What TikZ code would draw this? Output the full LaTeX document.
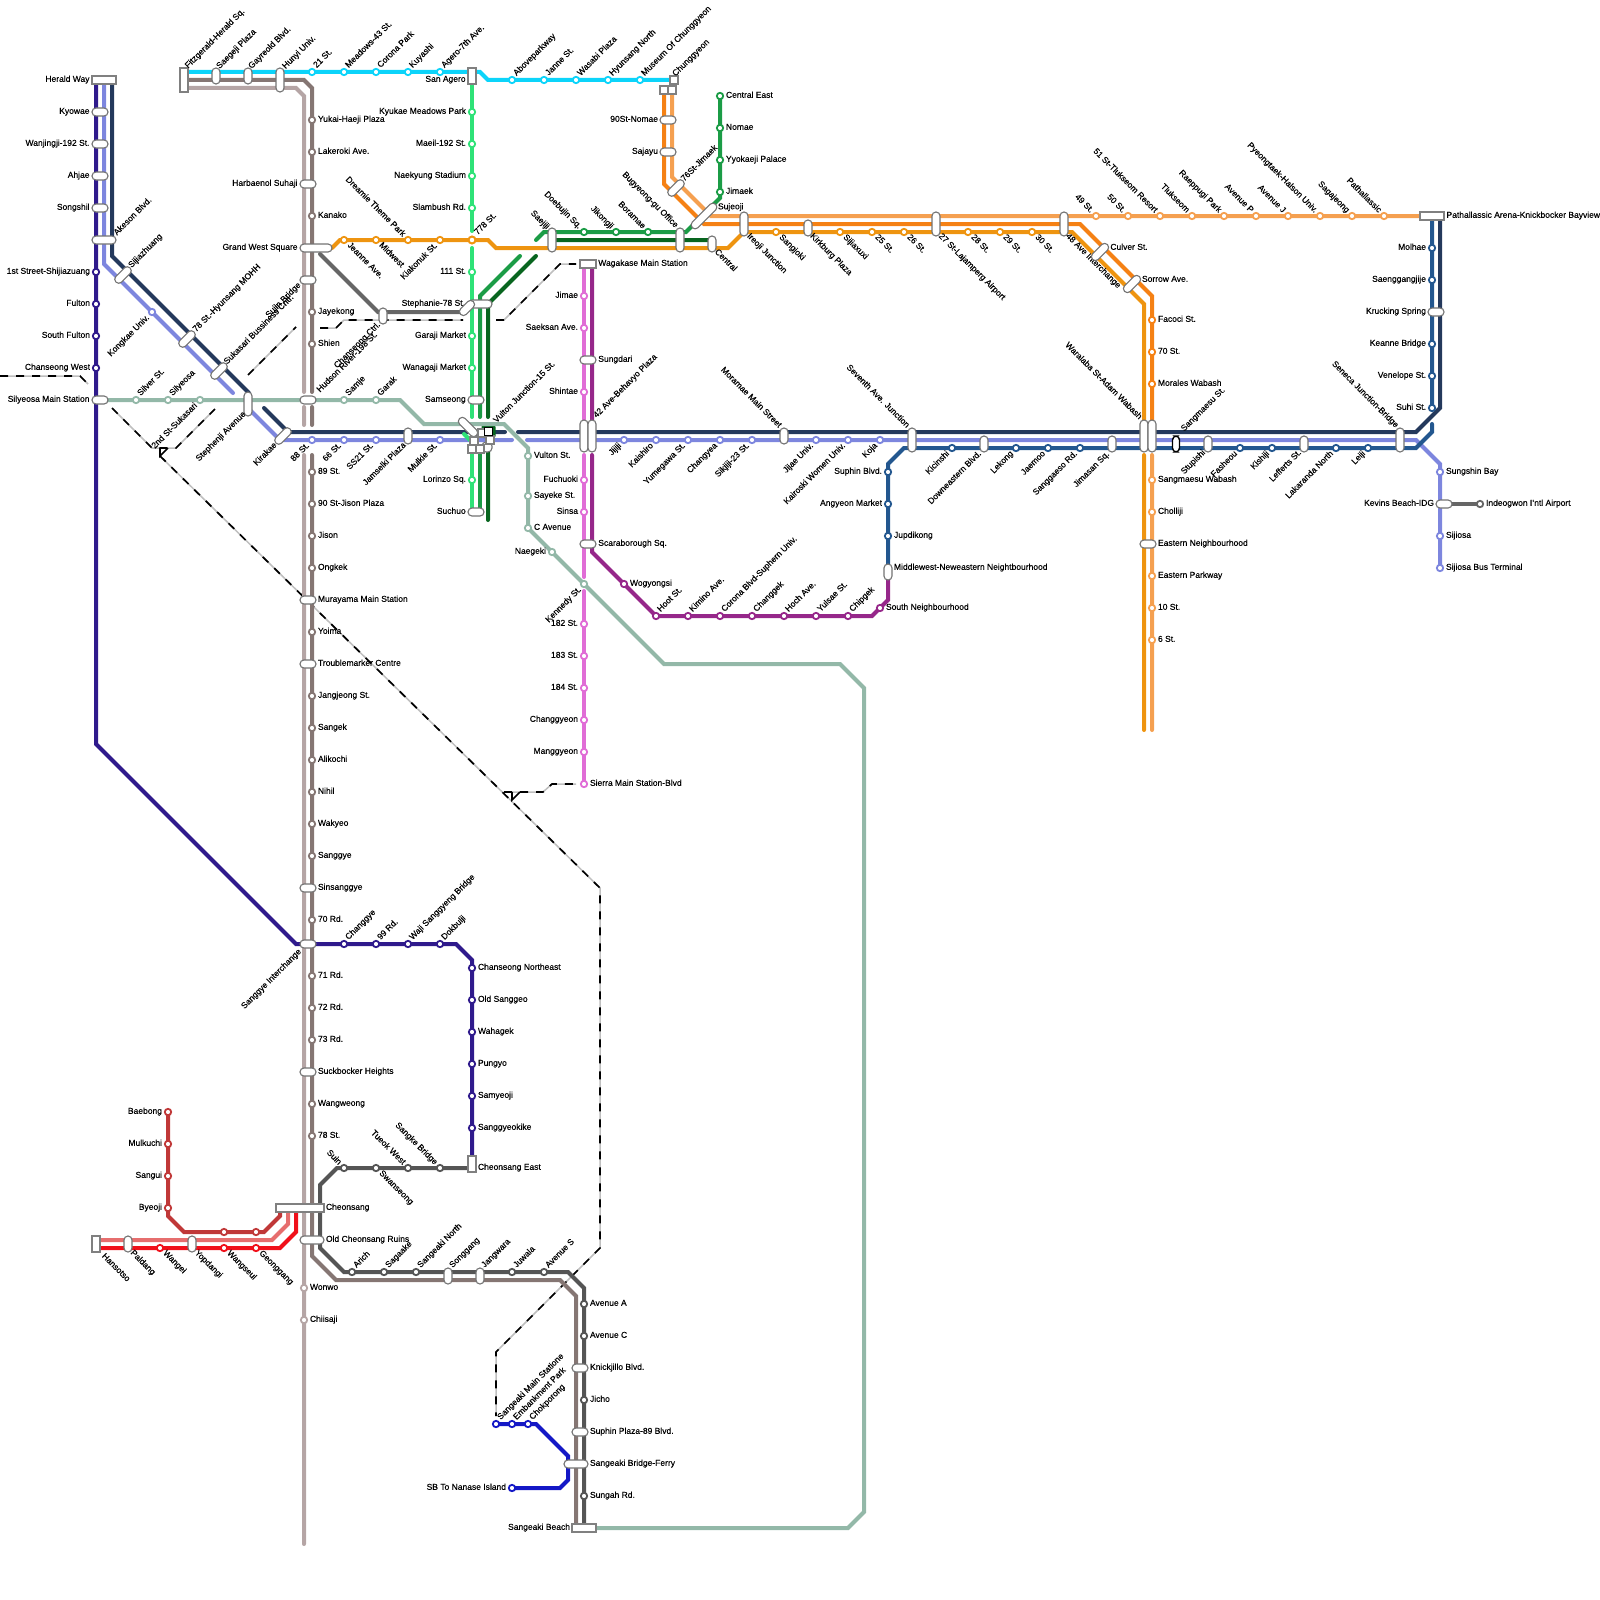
\documentclass[tikz,border=0pt]{standalone}
\usepackage{fontspec}
\setmainfont{Liberation Sans}[FakeBold=0.3]
\definecolor{ind}{HTML}{2F1A8C}
\definecolor{peri}{HTML}{7D86DE}
\definecolor{navy}{HTML}{24395C}
\definecolor{lgreen}{HTML}{2EE277}
\definecolor{mgreen}{HTML}{1B9C46}
\definecolor{dgreen}{HTML}{08651F}
\definecolor{cyanl}{HTML}{0CD4FA}
\definecolor{brownl}{HTML}{857673}
\definecolor{lbrown}{HTML}{B5A5A5}
\definecolor{dgrey}{HTML}{555555}
\definecolor{mgrey}{HTML}{666666}
\definecolor{amber}{HTML}{EE9410}
\definecolor{orangel}{HTML}{F58114}
\definecolor{lorange}{HTML}{F5A050}
\definecolor{pinkl}{HTML}{E06DD6}
\definecolor{purplel}{HTML}{96278A}
\definecolor{bluel}{HTML}{23578F}
\definecolor{sage}{HTML}{93B8A8}
\definecolor{redd}{HTML}{C03838}
\definecolor{redp}{HTML}{E66E6E}
\definecolor{redb}{HTML}{F0101A}
\definecolor{bluev}{HTML}{1418C6}
\pgfdeclarelayer{lines}
\pgfsetlayers{lines,main}
\tikzset{
  stn/.style={circle,fill=white,line width=1.8pt,minimum size=6.4pt,inner sep=0pt,outer sep=0pt},
  lb/.style={font=\fontsize{8.5}{10}\selectfont,inner sep=0pt,outer sep=0pt,text height=6.2pt,text depth=1.6pt,text=black},
  pillbox/.style={rectangle,fill=white,draw=black!55,line width=1.1pt,rounded corners=3.9pt,inner sep=0pt,outer sep=0pt},
  sqbox/.style={rectangle,fill=white,draw=black!50,line width=1.2pt,inner sep=0pt,outer sep=0pt},
  ln/.style={line width=4pt,line join=miter,line cap=round},
  rail/.style={line width=1.5pt,black!25},
  railtop/.style={line width=1.7pt,black,dash pattern=on 8pt off 8pt},
}
\newcommand\labE[4]{\node[lb,anchor=west] (#1) at ({#2+6},{#3-0.5}) {#4};}
\newcommand\labW[4]{\node[lb,anchor=east] (#1) at ({#2-6},{#3-0.5}) {#4};}
\newcommand\labNE[4]{\node[lb,anchor=west,rotate=45] (#1) at ({#2+3},{#3-5.5}) {#4};}
\newcommand\labSW[4]{\node[lb,anchor=east,rotate=45] (#1) at ({#2-4},{#3+4.5}) {#4};}
\newcommand\labSE[4]{\node[lb,anchor=west,rotate=-45] (#1) at ({#2+4.5},{#3+4}) {#4};}
\newcommand\labNW[4]{\node[lb,anchor=east,rotate=-45] (#1) at ({#2-4},{#3-4.5}) {#4};}
\newcommand\st[6]{\node[stn,draw=#4] (#1) at (#2,#3) {};\csname lab#5\endcsname{#1t}{#2}{#3}{#6}}
\newcommand\pl[6]{\node[pillbox,minimum width=#4pt,minimum height=#5pt,rotate=#6] (#1) at (#2,#3) {};}
\newcommand\bx[5]{\node[sqbox,minimum width=#4pt,minimum height=#5pt] (#1) at (#2,#3) {};}
\begin{document}
\begin{tikzpicture}[x=1pt,y=-1pt]
\useasboundingbox (0,0) rectangle (1600,1600);
% ---------- indigo
\bx{herald}{104}{80}{24}{8}\labW{heraldt}{95.5}{80}{Herald Way}
\pl{kyowae}{100}{112}{16}{8}{0}\labW{kyowaet}{95.5}{112}{Kyowae}
\pl{wanj}{100}{144}{16}{8}{0}\labW{wanjt}{95.5}{144}{Wanjingji-192 St.}
\pl{ahjae}{100}{176}{16}{8}{0}\labW{ahjaet}{95.5}{176}{Ahjae}
\pl{songshil}{100}{208}{16}{8}{0}\labW{songshilt}{95.5}{208}{Songshil}
\pl{akeson}{104}{240}{24}{8}{0}\labNE{akesont}{112.4}{239.5}{Akeson Blvd.}
\st{i1}{96}{272}{ind}{W}{1st Street-Shijiazuang}
\st{i2}{96}{304}{ind}{W}{Fulton}
\st{i3}{96}{336}{ind}{W}{South Fulton}
\st{i4}{96}{368}{ind}{W}{Chanseong West}
\pl{silyeosa}{100}{400}{16}{8}{0}\labW{silyeosat}{95.5}{400}{Silyeosa Main Station}
\pl{interch}{308}{944}{16}{8}{0}\labSW{interchant}{304}{946}{Sanggye Interchange}
\st{i5}{344}{944}{ind}{NE}{Changgye}
\st{i6}{376}{944}{ind}{NE}{99 Rd.}
\st{i7}{408}{944}{ind}{NE}{Waji Sanggyeng Bridge}
\st{i8}{440}{944}{ind}{NE}{Dokbulji}
\st{i9}{472}{968}{ind}{E}{Chanseong Northeast}
\st{i10}{472}{1000}{ind}{E}{Old Sanggeo}
\st{i11}{472}{1032}{ind}{E}{Wahagek}
\st{i12}{472}{1064}{ind}{E}{Pungyo}
\st{i13}{472}{1096}{ind}{E}{Samyeoji}
\st{i14}{472}{1128}{ind}{E}{Sanggyeokike}
\bx{cheoneast}{472}{1164}{8}{16}\labE{cheoneastt}{472}{1168}{Cheonsang East}
% ---------- periwinkle diag
\pl{sijia}{123}{275}{20}{8}{45}\labNE{sijiat}{127}{272}{Sijiazhuang}
\st{p1}{152}{312}{peri}{SW}{Kongkae Univ.}
\pl{p78}{187}{339}{20}{8}{45}\labNE{p78t}{191.5}{336}{78 St.-Hyunsang MOHH}
\pl{sukas}{219}{371}{20}{8}{45}\labNE{sukast}{222.5}{368.5}{Sukasari Bussiness Cntr.}
\pl{stephenji}{248}{404}{8}{24}{0}\labSW{stephenjit}{248.5}{408.5}{Stephenji Avenue}
\pl{kirakae}{283}{436}{20}{8}{45}\labSW{kirakaet}{279.5}{439.5}{Kirakae}
\st{p2}{312}{440}{peri}{SW}{88 St.}
\st{p3}{344}{440}{peri}{SW}{66 St.}
\st{p4}{376}{440}{peri}{SW}{SS21 St.}
\pl{jamsel}{408}{436}{8}{16}{0}\labSW{jamselt}{408.6}{439.5}{Jamselki Plaza}
\st{p5}{440}{440}{peri}{SW}{Mulkie St.}
\pl{ave42a}{584}{436}{8}{32}{0}
\pl{ave42b}{592}{436}{8}{32}{0}\labNE{ave42t}{592}{422}{42 Ave-Behavyo Plaza}
\st{p6}{624}{440}{peri}{SW}{Jijiji}
\st{p7}{656}{440}{peri}{SW}{Kaishiro}
\st{p8}{688}{440}{peri}{SW}{Yumegawa St.}
\st{p9}{720}{440}{peri}{SW}{Changyea}
\st{p10}{752}{440}{peri}{SW}{Sikjiji-23 St.}
\pl{moramae}{784}{436}{8}{16}{0}\labNW{moramaet}{784}{431}{Moramae Main Street}
\st{p11}{816}{440}{peri}{SW}{Jijae Univ.}
\st{p12}{848}{440}{peri}{SW}{Kairoski Women Univ.}
\st{p13}{880}{440}{peri}{SW}{Koja}
\pl{seventh}{912}{440}{8}{24}{0}\labNW{seventht}{912}{431}{Seventh Ave. Junction}
\st{p14}{1440}{472}{peri}{E}{Sungshin Bay}
\pl{kevins}{1444}{504}{16}{8}{0}\labW{kevinst}{1440}{504}{Kevins Beach-IDG}
\st{p15}{1440}{536}{peri}{E}{Sijiosa}
\st{p16}{1440}{568}{peri}{E}{Sijiosa Bus Terminal}
\st{air}{1480}{504}{mgrey}{E}{Indeogwon I'ntl Airport}
% ---------- blue
\st{b1}{888}{472}{bluel}{W}{Suphin Blvd.}
\st{b2}{888}{504}{bluel}{W}{Angyeon Market}
\st{b3}{888}{536}{bluel}{E}{Jupdikong}
\pl{middle}{888}{572}{8}{16}{0}\labE{middlet}{888}{568}{Middlewest-Neweastern Neightbourhood}
\st{b4}{952}{448}{bluel}{SW}{Kicinshi}
\pl{downe}{984}{444}{8}{16}{0}\labSW{downet}{984}{448}{Downeastern Blvd.}
\st{b5}{1016}{448}{bluel}{SW}{Lekong}
\st{b6}{1048}{448}{bluel}{SW}{Jaemoo}
\st{b7}{1080}{448}{bluel}{SW}{Sanggaeso Rd.}
\pl{jimasan}{1112}{444}{8}{16}{0}\labSW{jimasant}{1112}{448.5}{Jimasan Sq.}
\pl{wara1}{1144}{436}{8}{32}{0}\labNW{warat}{1144.5}{422.5}{Waralaba St-Adam Wabash}
\pl{wara2}{1152}{436}{8}{32}{0}
\node[pillbox,draw=black,line width=1.4pt,minimum width=7pt,minimum height=16pt] (sangm) at (1176,444) {};\labNE{sangmt}{1179.6}{435.5}{Sangmaesu St.}
\pl{stup}{1208}{444}{8}{16}{0}\labSW{stupt}{1208}{447}{Stupishi}
\st{b8}{1240}{448}{bluel}{SW}{Fasheou}
\st{b9}{1272}{448}{bluel}{SW}{Kishiji}
\pl{leff}{1304}{444}{8}{16}{0}\labSW{lefft}{1304}{447}{Lefferts St.}
\st{b10}{1336}{448}{bluel}{SW}{Lakaranda North}
\st{b11}{1368}{448}{bluel}{SW}{Leiji}
\pl{seneca}{1400}{440}{8}{24}{0}\labNW{senecat}{1401}{431}{Seneca Junction-Bridge}
\bx{patha}{1432}{216}{24}{8}\labE{pathat}{1440.5}{216}{Pathallassic Arena-Knickbocker Bayview}
\st{b12}{1432}{248}{bluel}{W}{Molhae}
\st{b13}{1432}{280}{bluel}{W}{Saenggangjije}
\pl{kruck}{1436}{312}{16}{8}{0}\labW{kruckt}{1432}{312}{Krucking Spring}
\st{b14}{1432}{344}{bluel}{W}{Keanne Bridge}
\st{b15}{1432}{376}{bluel}{W}{Venelope St.}
\st{b16}{1432}{408}{bluel}{W}{Suhi St.}
% ---------- purple / pink
\bx{waga}{588}{264}{16}{8}\labE{wagat}{592.3}{264}{Wagakase Main Station}
\st{k1}{584}{296}{pinkl}{W}{Jimae}
\st{k2}{584}{328}{pinkl}{W}{Saeksan Ave.}
\pl{sungd}{588}{360}{16}{8}{0}\labE{sungdt}{592.3}{360}{Sungdari}
\st{k3}{584}{392}{pinkl}{W}{Shintae}
\st{k4}{584}{480}{pinkl}{W}{Fuchuoki}
\st{k5}{584}{512}{pinkl}{W}{Sinsa}
\pl{scara}{588}{544}{16}{8}{0}\labE{scarat}{592.3}{544}{Scaraborough Sq.}
\st{k6}{584}{624}{pinkl}{W}{182 St.}
\st{k7}{584}{656}{pinkl}{W}{183 St.}
\st{k8}{584}{688}{pinkl}{W}{184 St.}
\st{k9}{584}{720}{pinkl}{W}{Changgyeon}
\st{k10}{584}{752}{pinkl}{W}{Manggyeon}
\st{k11}{584}{784}{pinkl}{E}{Sierra Main Station-Blvd}
\st{u1}{624}{584}{purplel}{E}{Wogyongsi}
\st{u2}{656}{616}{purplel}{NE}{Hoot St.}
\st{u3}{688}{616}{purplel}{NE}{Kimino Ave.}
\st{u4}{720}{616}{purplel}{NE}{Corona Blvd-Suphern Univ.}
\st{u5}{752}{616}{purplel}{NE}{Changgek}
\st{u6}{784}{616}{purplel}{NE}{Hoch Ave.}
\st{u7}{816}{616}{purplel}{NE}{Yulsae St.}
\st{u8}{848}{616}{purplel}{NE}{Chipgek}
\st{u9}{880}{608}{purplel}{E}{South Neighbourhood}
% ---------- sage
\st{g1}{136}{400}{sage}{NE}{Silver St.}
\st{g2}{168}{400}{sage}{NE}{Silyeosa}
\st{g3}{200}{400}{sage}{SW}{2nd St-Sukasari}
\st{g4}{344}{400}{sage}{NE}{Samje}
\st{g5}{376}{400}{sage}{NE}{Garak}
\st{g6}{528}{456}{sage}{E}{Vulton St.}
\st{g7}{528}{496}{sage}{E}{Sayeke St.}
\st{g8}{528}{528}{sage}{E}{C Avenue}
\st{g9}{552}{552}{sage}{W}{Naegeki}
\st{g10}{584}{584}{sage}{SW}{Kennedy St.}
\bx{beach}{584}{1528}{24}{8}\labW{beacht}{576}{1528}{Sangeaki Beach}
% ---------- brown
\bx{fitz}{184}{80}{8}{24}\labNE{fitzt}{183.6}{72.5}{Fitzgerald-Herald Sq.}
\pl{saeg}{216}{76}{8}{16}{0}\labNE{saegt}{215}{73}{Saegeji Plaza}
\pl{gayr}{248}{76}{8}{16}{0}\labNE{gayrt}{247}{73}{Gayreold Blvd.}
\pl{huny}{280}{80}{8}{24}{0}\labNE{hunyt}{281}{73}{Hunyi Univ.}
\st{r1}{312}{120}{brownl}{E}{Yukai-Haeji Plaza}
\st{r2}{312}{152}{brownl}{E}{Lakeroki Ave.}
\pl{harb}{308}{184}{16}{8}{0}\labW{harbt}{303.5}{184}{Harbaenol Suhaji}
\st{r3}{312}{216}{brownl}{E}{Kanako}
\pl{grand}{316}{248}{32}{8}{0}\labW{grandt}{303.5}{248}{Grand West Square}
\pl{sujin}{308}{280}{16}{8}{0}\labSW{sujint}{303.6}{279.5}{Sujin Bridge}
\st{r4}{312}{312}{brownl}{E}{Jayekong}
\st{r5}{312}{344}{brownl}{E}{Shien}
\pl{hudson}{308}{400}{16}{8}{0}\labNE{hudsont}{315.5}{396.5}{Hudson River-198 St.}
\st{r6}{312}{472}{brownl}{E}{89 St.}
\st{r7}{312}{504}{brownl}{E}{90 St-Jison Plaza}
\st{r8}{312}{536}{brownl}{E}{Jison}
\st{r9}{312}{568}{brownl}{E}{Ongkek}
\pl{muray}{308}{600}{16}{8}{0}\labE{murayt}{312}{600}{Murayama Main Station}
\st{r10}{312}{632}{brownl}{E}{Yoima}
\pl{troub}{308}{664}{16}{8}{0}\labE{troubt}{312}{664}{Troublemarker Centre}
\st{r11}{312}{696}{brownl}{E}{Jangjeong St.}
\st{r12}{312}{728}{brownl}{E}{Sangek}
\st{r13}{312}{760}{brownl}{E}{Alikochi}
\st{r14}{312}{792}{brownl}{E}{Nihil}
\st{r15}{312}{824}{brownl}{E}{Wakyeo}
\st{r16}{312}{856}{brownl}{E}{Sanggye}
\pl{sinsa}{308}{888}{16}{8}{0}\labE{sinsat}{312}{888}{Sinsanggye}
\st{r17}{312}{920}{brownl}{E}{70 Rd.}
\st{r18}{312}{976}{brownl}{E}{71 Rd.}
\st{r19}{312}{1008}{brownl}{E}{72 Rd.}
\st{r20}{312}{1040}{brownl}{E}{73 Rd.}
\pl{suck}{308}{1072}{16}{8}{0}\labE{suckt}{312}{1072}{Suckbocker Heights}
\st{r21}{312}{1104}{brownl}{E}{Wangweong}
\st{r22}{312}{1136}{brownl}{E}{78 St.}
\bx{cheon}{300}{1208}{48}{8}\labE{cheont}{320}{1208}{Cheonsang}
\pl{oldch}{312}{1240}{24}{8}{0}\labE{oldcht}{320}{1240}{Old Cheonsang Ruins}
\st{r23}{304}{1288}{lbrown}{E}{Wonwo}
\st{r24}{304}{1320}{lbrown}{E}{Chiisaji}
% ---------- dark grey
\st{d1}{344}{1168}{dgrey}{NW}{Suin}
\st{d2}{376}{1168}{dgrey}{SE}{Swanseong}
\st{d3}{408}{1168}{dgrey}{NW}{Tueok West}
\st{d4}{440}{1168}{dgrey}{NW}{Sangke Bridge}
\st{d5}{352}{1272}{dgrey}{NE}{Arich}
\st{d6}{384}{1272}{dgrey}{NE}{Sagaake}
\st{d7}{416}{1272}{dgrey}{NE}{Sangeaki North}
\pl{song}{448}{1276}{8}{16}{0}\labNE{songt}{448}{1272}{Songgang}
\pl{jangw}{480}{1276}{8}{16}{0}\labNE{jangwt}{480}{1272}{Jangwara}
\st{d8}{512}{1272}{dgrey}{NE}{Juwala}
\st{d9}{544}{1272}{dgrey}{NE}{Avenue S}
\st{d10}{584}{1304}{dgrey}{E}{Avenue A}
\st{d11}{584}{1336}{dgrey}{E}{Avenue C}
\pl{knick}{580}{1368}{16}{8}{0}\labE{knickt}{584}{1368}{Knickjillo Blvd.}
\st{d12}{584}{1400}{dgrey}{E}{Jicho}
\pl{suph}{580}{1432}{16}{8}{0}\labE{supht}{584}{1432}{Suphin Plaza-89 Blvd.}
\pl{bridge}{576}{1464}{24}{8}{0}\labE{bridget}{584}{1464}{Sangeaki Bridge-Ferry}
\st{d13}{584}{1496}{dgrey}{E}{Sungah Rd.}
% ---------- bright blue
\st{v1}{496}{1424}{bluev}{NE}{Sangeaki Main Statione}
\st{v2}{512}{1424}{bluev}{NE}{Embankment Park}
\st{v3}{528}{1424}{bluev}{NE}{Chokporong}
\st{v4}{512}{1488}{bluev}{W}{SB To Nanase Island}
% ---------- reds
\st{e1}{168}{1112}{redd}{W}{Baebong}
\st{e2}{168}{1144}{redd}{W}{Mulkuchi}
\st{e3}{168}{1176}{redd}{W}{Sangui}
\st{e4}{168}{1208}{redd}{W}{Byeoji}
\node[stn,draw=redd] (e5) at (224,1232) {};
\node[stn,draw=redd] (e6) at (256,1232) {};
\bx{hans}{96}{1244}{8}{16}\labSE{hanst}{98.7}{1251}{Hansotso}
\pl{pald}{128}{1244}{8}{16}{0}\labSE{paldt}{127.3}{1247.7}{Paldang}
\st{e7}{160}{1248}{redb}{SE}{Wangei}
\pl{yopd}{192}{1244}{8}{16}{0}\labSE{yopdt}{191.6}{1247.7}{Yopdangi}
\st{e8}{224}{1248}{redb}{SE}{Wangseul}
\st{e9}{256}{1248}{redb}{SE}{Geonggang}
% ---------- cyan
\st{c1}{312}{72}{cyanl}{NE}{21 St.}
\st{c2}{344}{72}{cyanl}{NE}{Meadows-43 St.}
\st{c3}{376}{72}{cyanl}{NE}{Corona Park}
\st{c4}{408}{72}{cyanl}{NE}{Kuyashi}
\st{c5}{440}{72}{cyanl}{NE}{Agero-7th Ave.}
\bx{sanag}{472}{76}{8}{16}\labW{sanagt}{471.6}{80}{San Agero}
\st{c6}{512}{80}{cyanl}{NE}{Aboveparkway}
\st{c7}{544}{80}{cyanl}{NE}{Janne St.}
\st{c8}{576}{80}{cyanl}{NE}{Wasabi Plaza}
\st{c9}{608}{80}{cyanl}{NE}{Hyunsang North}
\st{c10}{640}{80}{cyanl}{NE}{Museum Of Chunggyeon}
\bx{chungg}{674}{80}{8}{8}\labNE{chunggt}{671}{80.5}{Chunggyeon}
% ---------- light green
\st{l1}{472}{112}{lgreen}{W}{Kyukae Meadows Park}
\st{l2}{472}{144}{lgreen}{W}{Maeil-192 St.}
\st{l3}{472}{176}{lgreen}{W}{Naekyung Stadium}
\st{l4}{472}{208}{lgreen}{W}{Slambush Rd.}
\st{l6}{472}{272}{lgreen}{W}{111 St.}
\pl{stephb}{480}{304}{24}{8}{0}\labW{stepht}{471}{304}{Stephanie-78 St.}
\st{l7}{472}{336}{lgreen}{W}{Garaji Market}
\st{l8}{472}{368}{lgreen}{W}{Wanagaji Market}
\pl{samse}{476}{400}{16}{8}{0}\labW{samset}{471.7}{400}{Samseong}
\st{l9}{472}{480}{lgreen}{W}{Lorinzo Sq.}
\pl{suchuo}{476}{512}{16}{8}{0}\labW{suchuot}{471.7}{512}{Suchuo}
\pl{stepha}{467}{308}{18}{8}{45}
\pl{chctrl}{383}{316}{8}{16}{0}\labSW{chctrlt}{383}{319}{Chanseong Ctrl.}
% ---------- Vulton cluster
\pl{vult1}{468}{427}{24}{8}{-45}
\bx{vult2}{482}{433}{8}{8}
\bx{vult3}{474}{441}{8}{8}
\node[pillbox,minimum width=10pt,minimum height=10pt,rounded corners=4pt] (vult4) at (487,447) {};
\bx{vult5}{490}{440}{8}{8}
\bx{vult6}{472}{449}{8}{8}
\bx{vult7}{480}{449}{8}{8}
\node[sqbox,draw=black,line width=1.4pt,minimum width=8pt,minimum height=8pt] (vult8) at (488.5,431.5) {};
\labNE{vultont}{492}{427}{Vulton Junction-15 St.}
% ---------- green
\st{n1}{720}{96}{mgreen}{E}{Central East}
\st{n2}{720}{128}{mgreen}{E}{Nomae}
\st{n3}{720}{160}{mgreen}{E}{Yyokaeji Palace}
\st{n4}{720}{192}{mgreen}{E}{Jimaek}
\st{n5}{584}{232}{mgreen}{NW}{Doebujin Sq.}
\st{n6}{616}{232}{mgreen}{NW}{Jikongji}
\st{n7}{648}{232}{mgreen}{NW}{Boramae}
\pl{saej}{552}{240}{8}{24}{0}\labNW{saejt}{552}{232.5}{Saejiji}
\pl{bugy}{680}{240}{8}{24}{0}\labNW{bugyt}{680.7}{231}{Bugyeong-gu Office}
\pl{central}{712}{244}{8}{16}{0}\labSE{centralt}{711.5}{246.7}{Central}
% ---------- amber and oranges
\st{a1}{344}{240}{amber}{SE}{Jeanne Ave.}
\st{a2}{376}{240}{amber}{SE}{Midwest}
\st{a3}{408}{240}{amber}{NW}{Dreamie Theme Park}
\st{a4}{440}{240}{amber}{SW}{Kiakonuk St.}
\node[stn,draw=amber,minimum size=7pt,line width=2pt] (a5) at (472,240) {};\labNE{a5t}{473}{239}{778 St.}
\pl{ireo}{744}{224}{8}{24}{0}\labSE{ireot}{743.8}{231}{Ireoji Junction}
\st{a6}{776}{232}{amber}{SE}{Sangjoki}
\pl{kirk}{808}{228}{8}{16}{0}\labSE{kirkt}{807}{231}{Kirkburg Plaza}
\st{a7}{840}{232}{amber}{SE}{Sijiaxuxi}
\st{a8}{872}{232}{amber}{SE}{25 St.}
\st{a9}{904}{232}{amber}{SE}{26 St.}
\pl{st27}{936}{224}{8}{24}{0}\labSE{st27t}{935.5}{231}{27 St-Lajamperg Airport}
\st{a10}{968}{232}{amber}{SE}{28 St.}
\st{a11}{1000}{232}{amber}{SE}{29 St.}
\st{a12}{1032}{232}{amber}{SE}{30 St.}
\pl{ave48}{1064}{224}{8}{24}{0}\labSE{ave48t}{1062.7}{231}{48 Ave Interchange}
\pl{culver}{1100}{252}{21}{8}{45}\labE{culvert}{1104.4}{248}{Culver St.}
\pl{sorrow}{1132}{284}{21}{8}{45}\labE{sorrowt}{1136}{280}{Sorrow Ave.}
\st{o1}{1096}{216}{lorange}{NW}{49 St.}
\st{o2}{1128}{216}{lorange}{NW}{50 St.}
\st{o3}{1160}{216}{lorange}{NW}{51 St-Tlukseom Resort}
\st{o4}{1192}{216}{lorange}{NW}{Tlukseom}
\st{o5}{1224}{216}{lorange}{NW}{Raeppugi Park}
\st{o6}{1256}{216}{lorange}{NW}{Avenue P}
\st{o7}{1288}{216}{lorange}{NW}{Avenue J}
\st{o8}{1320}{216}{lorange}{NW}{Pyeongtaek-Halson Univ.}
\st{o9}{1352}{216}{lorange}{NW}{Sagajeong}
\st{o10}{1384}{216}{lorange}{NW}{Pathallassic}
\st{f1}{1152}{320}{orangel}{E}{Facoci St.}
\st{f2}{1152}{352}{orangel}{E}{70 St.}
\st{f3}{1152}{384}{orangel}{E}{Morales Wabash}
\st{f4}{1152}{480}{lorange}{E}{Sangmaesu Wabash}
\st{f5}{1152}{512}{lorange}{E}{Cholliji}
\pl{eastn}{1148}{544}{16}{8}{0}\labE{eastnt}{1152}{544}{Eastern Neighbourhood}
\st{f6}{1152}{576}{lorange}{E}{Eastern Parkway}
\st{f7}{1152}{608}{lorange}{E}{10 St.}
\st{f8}{1152}{640}{lorange}{E}{6 St.}
\bx{top1}{664}{90}{8}{8}
\bx{top2}{672}{90}{8}{8}
\pl{nomae90}{668}{120}{16}{8}{0}\labW{nomae90t}{664}{120}{90St-Nomae}
\pl{sajayu}{668}{152}{16}{8}{0}\labW{sajayut}{664}{152}{Sajayu}
\pl{jim76}{676}{188}{20}{8}{45}\labNE{jim76t}{679.7}{185.5}{76St-Jimaek}
\pl{sujeoji}{704}{216}{33}{8}{45}\labE{sujeojit}{712}{207.5}{Sujeoji}
% ---------- bend and break coordinates
\foreach \n/\x/\y in {
 i0/96/80,i0b/96/744,i0c/296/944,i0d/456/944,i0e/472/960,
 pa/104/264,pb/233/393,pc/249/409,pd/280/440,pe/512/440,pf/527/440,pg/1416/440,ph/1440/464,
 na/112/80,nb/112/256,nc/249/393,nd/264/408,ne/288/432,nf/505/432,ng/518/432,nh/1416/432,ni/1440/408,nj/1440/216,
 ba/1432/216,bb/1432/424,bc/1432/432,bd/1416/448,be/904/448,bf/888/464,bg/888/566,
 ua/592/264,ub/592/420,uc/592/455,ud/592/552,ue/656/616,uf/872/616,ug/888/600,uh/888/578,
 ka/584/264,kb/584/420,kc/584/455,kd/584/577,ke/584/591,
 sa/400/400,sb/424/424,sc/504/424,sd/528/448,se/664/664,sf/840/664,sg/864/688,sh/864/1512,si/848/1528,
 wa/184/72,wb/480/72,wc/488/80,wd/670/80,
 xa/184/80,xb/304/80,xc/312/88,xd/312/392,xe/312/407,xf/312/425,xg/312/455,xh/312/1256,xi/336/1280,xj/560/1280,xk/576/1296,xl/576/1528,
 ya/184/88,yb/296/88,yc/304/96,yd/304/392,ye/304/407,yf/304/425,yg/304/455,yh/304/1544,
 za/472/84,zb/472/231,zc/472/248,zd/472/417,ze/472/452,zf/472/510,
 ma/480/417,mb/480/296,mc/520/256,md/536/240,me/544/232,mf/686/232,mg/720/198,mh/480/452,mi/480/510,
 oa/488/417,ob/488/304,oc/536/256,od/552/240,oe/712/240,of/488/452,og/488/520,
 aa/332/248,ab/340/240,ac/488/240,ad/496/248,ae/728/248,af/744/232,ag/1072/232,ah/1144/304,ai/1144/420,aj/1144/455,ak/1144/730,
 ra/664/90,rb/664/184,rc/704/224,rd/1080/224,re/1152/296,rf/1152/420,
 ta/672/90,tb/672/177,tc/711/216,td/1424/216,tf/1152/455,tg/1152/730,
 qa/468/1168,qb/337/1168,qc/320/1185,qd/320/1248,qe/344/1272,qf/568/1272,qg/584/1288,qh/584/1528,
 ga/320/254,gb/378/312,gc/463/312,
 h1/536/1424,h2/568/1456,h3/568/1480,h4/560/1488,
 j1/168/1216,j2/184/1232,j3/264/1232,j4/280/1216,j5/280/1208,
 j6/100/1240,j7/272/1240,j8/288/1224,j9/288/1208,
 j10/100/1248,j11/280/1248,j12/296/1232,j13/296/1208,
 la/464/434,lb/472/442,
 r1a/0/376,r1b/80/376,r1c/88/384,
 r2a/112/408,r2b/152/448,r2c/176/448,r2d/215/409,
 r3a/160/456,r3b/600/888,r3c/600/1248,r3d/496/1352,r3e/496/1416,
 r4a/160/448,r4b/168/448,
 r5a/504/792,r5b/543/792,r5c/552/784,r5d/576/784,
 r6a/512/792,r6b/520/792,r6c/512/800,
 r7a/248/375,r7b/296/327,
 r8a/320/328,r8b/336/328,r8c/344/320,r8d/463/320,r8e/496/320,r8f/504/320,r8g/560/264,r8h/576/264
}{\coordinate (\n) at (\x,\y);}
\begin{pgfonlayer}{lines}
% rail alignments
\foreach \p in {{(r1a) -- (r1b) -- (r1c)},{(r2a) -- (r2b) -- (r2c) -- (r2d)},{(r3a) -- (r3b) -- (r3c) -- (r3d) -- (r3e)},{(r5a) -- (r5b) -- (r5c) -- (r5d)},{(r7a) -- (r7b)},{(r8a) -- (r8b) -- (r8c) -- (r8d)},{(r8e) -- (r8f) -- (r8g) -- (r8h)}}{
 \draw[rail] \p; \draw[railtop] \p;}
\draw[black,line width=1.7pt] (r4a) -- (r3a) -- (r4b);
\draw[black,line width=1.7pt] (r6a) -- (r6c) -- (r6b);
% brown trunks
\draw[ln,lbrown] (ya) -- (yb) -- (yc) -- (yd) (ye) -- (yf) (yg) -- (yh);
\draw[ln,brownl] (xa) -- (xb) -- (xc) -- (xd) (xe) -- (xf) (xg) -- (xh) -- (xi) -- (xj) -- (xk) -- (xl);
\draw[ln,dgrey] (qa) -- (qb) -- (qc) -- (qd) -- (qe) -- (qf) -- (qg) -- (qh);
\draw[ln,mgrey] (ga) -- (gb) -- (gc);
\draw[ln,mgrey] (kevins.center) -- (air.center);
% reds
\draw[ln,redd] (e1.center) -- (j1) -- (j2) -- (j3) -- (j4) -- (j5);
\draw[ln,redp] (j6) -- (j7) -- (j8) -- (j9);
\draw[ln,redb] (j10) -- (j11) -- (j12) -- (j13);
% blue bright
\draw[ln,bluev] (v1.center) -- (h1) -- (h2) -- (h3) -- (h4) -- (v4.center);
% indigo, navy, periwinkle
\draw[ln,ind] (i0) -- (i0b) -- (i0c) -- (i0d) -- (i0e) -- (cheoneast.center);
\draw[ln,navy] (na) -- (nb) -- (nc) (nd) -- (ne) -- (nf) (ng) -- (nh) -- (ni) -- (nj);
\draw[ln,peri] (herald.center) -- (pa) -- (pb) (pc) -- (pd) -- (pe) (pf) -- (pg) -- (ph) -- (p16.center);
% blue
\draw[ln,bluel] (ba) -- (b16.center) (bb) -- (bc) -- (bd) -- (be) -- (bf) -- (bg);
% purple pink
\draw[ln,purplel] (ua) -- (ub) (uc) -- (ud) -- (ue) -- (uf) -- (ug) -- (uh);
\draw[ln,pinkl] (ka) -- (kb) (kc) -- (kd) (ke) -- (k11.center);
% greens
\draw[ln,lgreen] (za) -- (zb) (zc) -- (zd) (ze) -- (zf);
\draw[ln,lgreen] (la) -- (lb);
\draw[ln,mgreen] (ma) -- (mb) -- (mc) (md) -- (me) -- (mf) -- (mg) -- (n1.center);
\draw[ln,mgreen] (mh) -- (mi);
\draw[ln,dgreen] (oa) -- (ob) -- (oc) (od) -- (oe) (of) -- (og);
\fill[dgreen,rounded corners=2pt] (481.5,425) rectangle (495.5,438);
% sage
\draw[ln,sage] (silyeosa.center) -- (sa) -- (sb) -- (sc) -- (sd) -- (g8.center) -- (se) -- (sf) -- (sg) -- (sh) -- (si) -- (beach.center);
% cyan
\draw[ln,cyanl] (wa) -- (wb) -- (wc) -- (wd);
% oranges
\draw[ln,amber] (aa) -- (ab) -- (ac) -- (ad) -- (ae) -- (af) -- (ag) -- (ah) -- (ai) (aj) -- (ak);
\draw[ln,lorange] (ta) -- (tb) -- (tc) -- (td) (tf) -- (tg);
\draw[ln,orangel] (ra) -- (rb) -- (rc) -- (rd) -- (re) -- (rf);
\end{pgfonlayer}
\end{tikzpicture}
\end{document}
